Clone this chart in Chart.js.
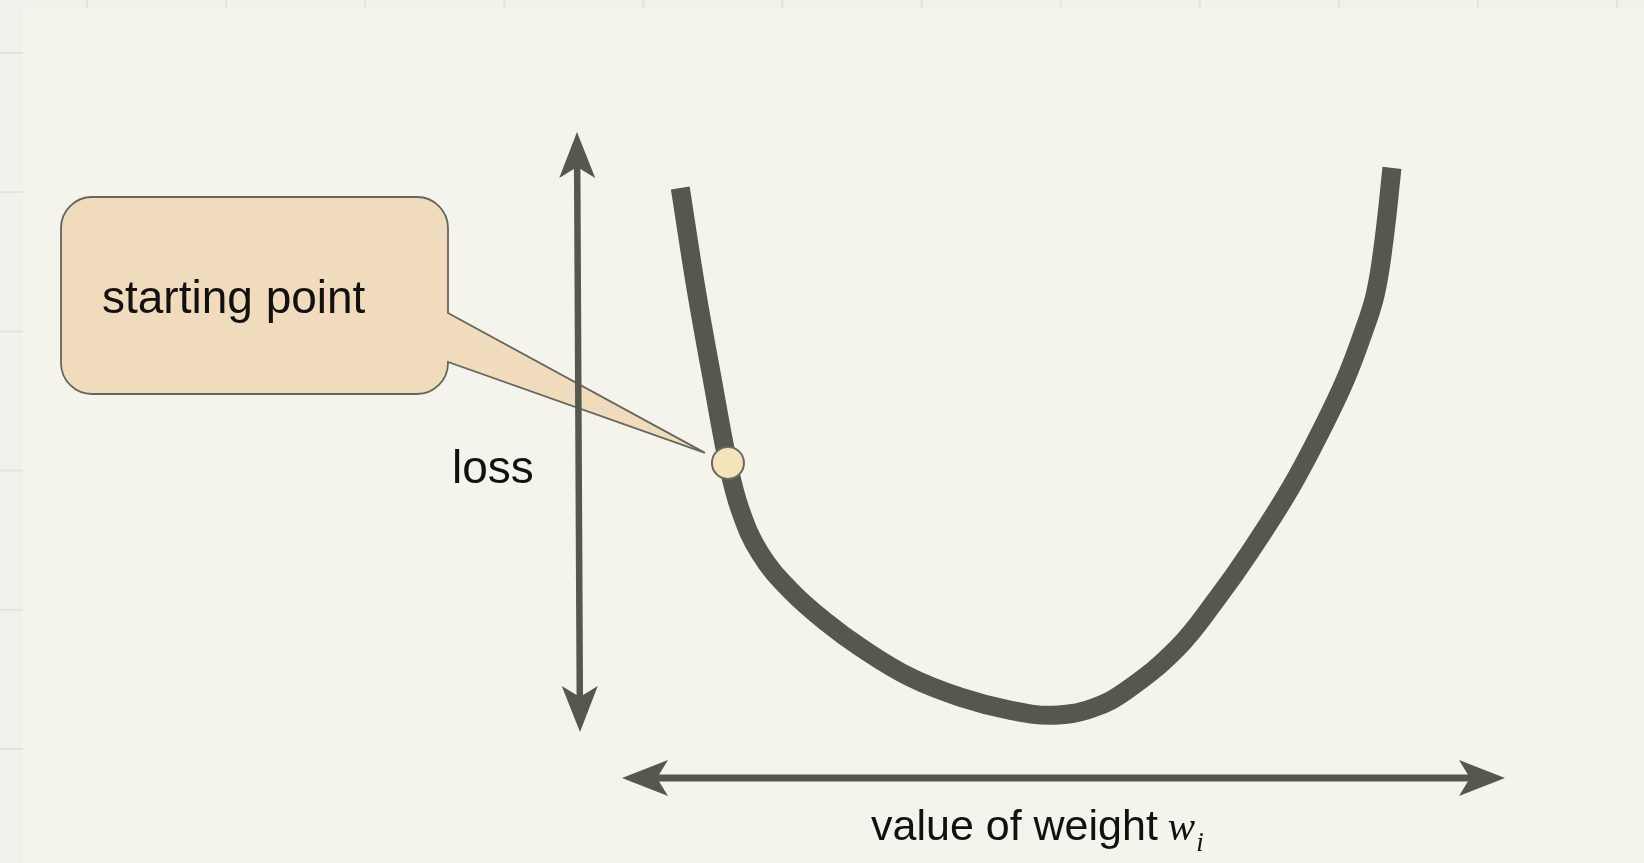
<!DOCTYPE html>
<html>
<head>
<meta charset="utf-8">
<script src="https://cdn.jsdelivr.net/npm/chart.js@4.4.1/dist/chart.umd.min.js"></script>
<style>
  html, body { margin: 0; padding: 0; background: #f2f2ed; }
  #wrap { width: 1644px; height: 863px; }
</style>
</head>
<body>
<div id="wrap"><canvas id="c" width="1644" height="863"></canvas></div>
<script>
// ---- data (weight value vs. loss) ----
const curveWeight = [0.66, 0.84, 1.02, 1.20, 1.34, 1.56, 1.90, 2.32, 2.70, 3.26, 3.83, 4.39, 4.88, 5.33, 5.72, 6.29, 6.72, 7.11, 7.57, 7.94, 8.19, 8.38, 8.53, 8.63, 8.72];
const curveLoss   = [9.12, 7.55, 6.18, 4.87, 4.14, 3.48, 2.91, 2.40, 2.02, 1.56, 1.25, 1.05, 0.97, 1.08, 1.36, 2.01, 2.74, 3.49, 4.48, 5.43, 6.15, 6.83, 7.47, 8.32, 9.43];
const startWeight = [1.20];
const startLoss   = [4.87];
const calloutText = "starting point";
const yAxisLabel  = "loss";
const xAxisLabel  = "value of weight ";
const xAxisVar    = "w";
const xAxisSub    = "i";
const axisRange   = { min: 0, max: 10 };

const ink = '#56574f';

function arrowHead(ctx, tip, dir, len, half, notch) {
  const px = -dir[1], py = dir[0];
  const bx = tip[0] - dir[0] * len, by = tip[1] - dir[1] * len;
  const nx = tip[0] - dir[0] * (len - notch), ny = tip[1] - dir[1] * (len - notch);
  ctx.beginPath();
  ctx.moveTo(tip[0], tip[1]);
  ctx.lineTo(bx + px * half, by + py * half);
  ctx.lineTo(nx, ny);
  ctx.lineTo(bx - px * half, by - py * half);
  ctx.closePath();
  ctx.fill();
}

function doubleArrow(ctx, a, b, width) {
  const dx = b[0] - a[0], dy = b[1] - a[1];
  const L = Math.hypot(dx, dy);
  const u = [dx / L, dy / L];
  const len = 46, half = 18, notch = 11;
  ctx.save();
  ctx.strokeStyle = ink; ctx.fillStyle = ink; ctx.lineWidth = width; ctx.lineCap = 'butt';
  ctx.beginPath();
  ctx.moveTo(a[0] + u[0] * (len - notch - 2), a[1] + u[1] * (len - notch - 2));
  ctx.lineTo(b[0] - u[0] * (len - notch - 2), b[1] - u[1] * (len - notch - 2));
  ctx.stroke();
  arrowHead(ctx, b, u, len, half, notch);
  arrowHead(ctx, a, [-u[0], -u[1]], len, half, notch);
  ctx.restore();
}

const backdrop = {
  id: 'backdrop',
  beforeDraw(chart) {
    const ctx = chart.ctx, W = chart.width, H = chart.height;
    ctx.save();
    ctx.fillStyle = '#f2f2ed';
    ctx.fillRect(0, 0, W, H);
    ctx.strokeStyle = '#e4e4df';
    ctx.lineWidth = 2;
    for (let x = 87; x < W; x += 139.1) {
      ctx.beginPath(); ctx.moveTo(x, 0); ctx.lineTo(x, 8); ctx.stroke();
    }
    for (let y = 53; y < H; y += 139.2) {
      ctx.beginPath(); ctx.moveTo(0, y); ctx.lineTo(23, y); ctx.stroke();
    }
    ctx.fillStyle = '#f4f4ec';
    ctx.fillRect(23, 8, W - 23, H - 8);
    ctx.restore();
  }
};

const decorations = {
  id: 'decorations',
  beforeDatasetsDraw(chart) {
    const ctx = chart.ctx;
    const xs = chart.scales.x, ys = chart.scales.y;
    const sx = xs.getPixelForValue(startWeight[0]);
    const sy = ys.getPixelForValue(startLoss[0]);

    // callout box with tail pointing to the start point
    const bx0 = 61, by0 = 197, bx1 = 448, by1 = 394, r = 31;
    const tailTop = 313, tailBot = 362;
    const tip = [sx - 23, sy - 10];
    ctx.save();
    ctx.beginPath();
    ctx.moveTo(bx0 + r, by0);
    ctx.lineTo(bx1 - r, by0);
    ctx.arcTo(bx1, by0, bx1, by0 + r, r);
    ctx.lineTo(bx1, tailTop);
    ctx.lineTo(tip[0], tip[1]);
    ctx.lineTo(bx1, tailBot);
    ctx.lineTo(bx1, by1 - r);
    ctx.arcTo(bx1, by1, bx1 - r, by1, r);
    ctx.lineTo(bx0 + r, by1);
    ctx.arcTo(bx0, by1, bx0, by1 - r, r);
    ctx.lineTo(bx0, by0 + r);
    ctx.arcTo(bx0, by0, bx0 + r, by0, r);
    ctx.closePath();
    ctx.fillStyle = '#f0dcbc';
    ctx.fill();
    ctx.strokeStyle = '#66665f';
    ctx.lineWidth = 1.8;
    ctx.stroke();

    ctx.fillStyle = '#111111';
    ctx.textBaseline = 'alphabetic';
    ctx.textAlign = 'left';
    ctx.font = '46px "Liberation Sans", Arial, sans-serif';
    ctx.fillText(calloutText, 102, 313);

    // axis arrows
    const xLeft = xs.getPixelForValue(axisRange.min), xRight = xs.getPixelForValue(axisRange.max);
    const yBase = ys.getPixelForValue(axisRange.min);
    const yTop = ys.getPixelForValue(axisRange.max);
    doubleArrow(ctx, [xLeft, yBase], [xRight, yBase], 7);
    const vx = xLeft - 44;
    doubleArrow(ctx, [vx + 2, yBase - 46], [vx - 1, yTop + 1], 6.5);

    // labels
    ctx.fillStyle = '#111111';
    ctx.font = '46px "Liberation Sans", Arial, sans-serif';
    ctx.textAlign = 'left';
    ctx.fillText(yAxisLabel, 452, 483);

    ctx.font = '43px "Liberation Sans", Arial, sans-serif';
    const x0 = 871, base = 840;
    ctx.fillText(xAxisLabel, x0, base);
    let w = ctx.measureText(xAxisLabel).width;
    ctx.font = 'italic 41px "Liberation Serif", "Times New Roman", serif';
    ctx.fillText(xAxisVar, x0 + w - 2, base);
    const w2 = ctx.measureText(xAxisVar).width;
    ctx.font = 'italic 27px "Liberation Serif", "Times New Roman", serif';
    ctx.fillText(xAxisSub, x0 + w + w2 - 1, base + 11);
    ctx.restore();
  }
};

new Chart(document.getElementById('c'), {
  type: 'scatter',
  data: {
    datasets: [
      {
        label: 'starting point',
        data: startWeight.map((x, i) => ({ x, y: startLoss[i] })),
        pointRadius: 16,
        pointBackgroundColor: '#f5e4b8',
        pointBorderColor: '#6a6a62',
        pointBorderWidth: 2,
        showLine: false,
        order: 0,
        clip: false
      },
      {
        label: 'loss',
        data: curveWeight.map((x, i) => ({ x, y: curveLoss[i] })),
        showLine: true,
        borderColor: ink,
        borderWidth: 19,
        borderCapStyle: 'butt',
        borderJoinStyle: 'round',
        cubicInterpolationMode: 'default',
        tension: 0.4,
        pointRadius: 0,
        fill: false,
        order: 1,
        clip: false
      }
    ]
  },
  options: {
    responsive: false,
    devicePixelRatio: 1,
    animation: false,
    events: [],
    layout: { padding: { left: 622, right: 139, top: 131, bottom: 85 } },
    plugins: { legend: { display: false }, tooltip: { enabled: false }, title: { display: false } },
    scales: {
      x: { type: 'linear', min: axisRange.min, max: axisRange.max, display: false },
      y: { type: 'linear', min: axisRange.min, max: axisRange.max, display: false }
    }
  },
  plugins: [backdrop, decorations]
});
</script>
</body>
</html>
